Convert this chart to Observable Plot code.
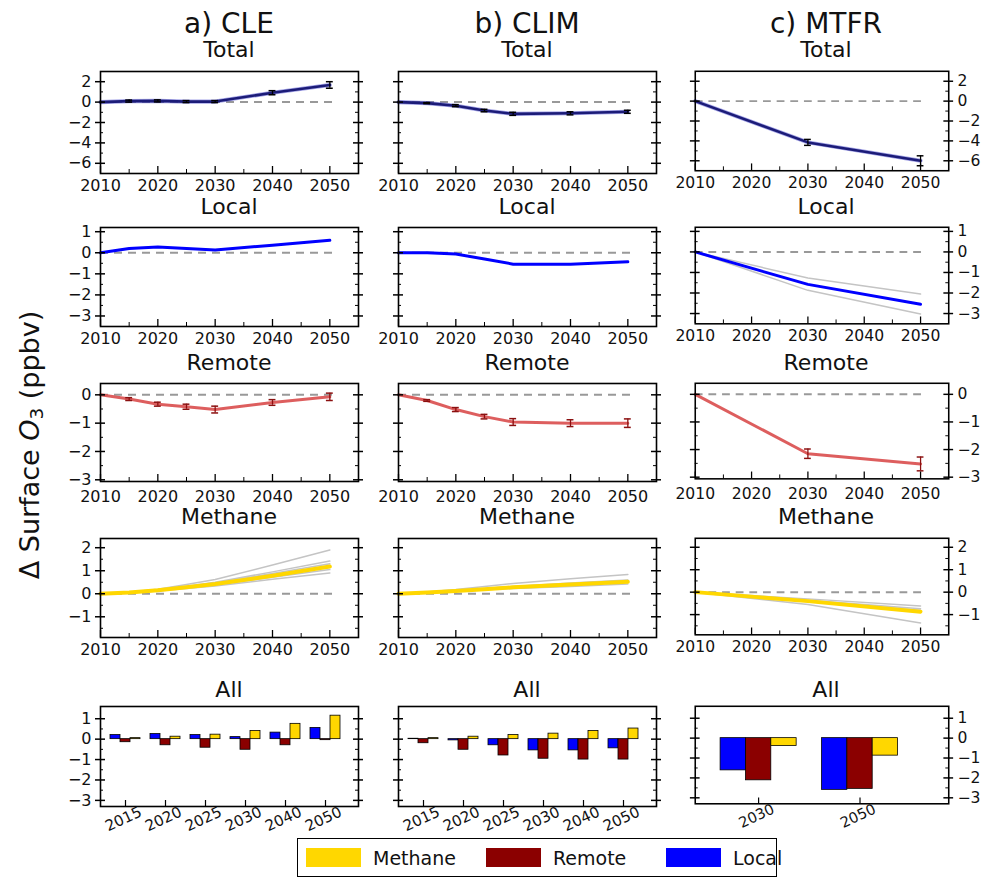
<!DOCTYPE html>
<html><head><meta charset="utf-8">
<script src="https://cdn.jsdelivr.net/npm/d3@7"></script>
<script src="https://cdn.jsdelivr.net/npm/@observablehq/plot@0.6"></script>
<style>
body{margin:0;background:#fff;font-family:"DejaVu Sans",sans-serif;}
#root{position:relative;width:997px;height:877px;overflow:hidden;background:#fff;}
.t{position:absolute;white-space:nowrap;color:#111;line-height:1;transform:translateX(-50%);}
.p{position:absolute;}
#ylab{position:absolute;white-space:nowrap;color:#111;font-size:27px;line-height:1;transform:translate(-50%,-50%) rotate(-90deg);}
#ylab sub{font-size:0.68em;vertical-align:-0.25em;}
#legend{position:absolute;left:297px;top:838px;width:480px;height:39px;border:1.2px solid #000;box-sizing:border-box;background:#fff;}
.li{position:absolute;top:0;height:100%;display:flex;align-items:center;font-size:19px;color:#111;}
.sw{display:inline-block;width:55px;height:19px;margin-right:12px;}
</style></head><body><div id="root"></div>
<script>
// ---------- data ----------
const colTitles = ["a) CLE", "b) CLIM", "c) MTFR"];
const rowTitles = ["Total", "Local", "Remote", "Methane", "All"];
const seriesNames = ["Local", "Remote", "Methane"];
const seriesColors = ["#0000ff", "#8b0000", "#ffd700"];

const lineYears = [2010, 2015, 2020, 2025, 2030, 2040, 2050];
const mtfrYears = [2010, 2030, 2050];
const xTicks = [2010, 2020, 2030, 2040, 2050];
const xMinor = [2015, 2025, 2035, 2045];

// CLE
const cleTotal = [0, 0.1, 0.12, 0.05, 0.05, 0.92, 1.68];
const cleTotalErr = [0, 0.1, 0.1, 0.1, 0.1, 0.2, 0.32];
const cleLocal = [0, 0.2, 0.28, 0.2, 0.13, 0.36, 0.59];
const cleRemote = [0, -0.15, -0.33, -0.42, -0.52, -0.27, -0.07];
const cleRemoteErr = [0, 0.05, 0.07, 0.09, 0.12, 0.1, 0.13];
const cleMethane = [0, 0.05, 0.15, 0.28, 0.42, 0.78, 1.18];
const cleMethaneModels = [
  [0, 0.07, 0.2, 0.4, 0.62, 1.25, 1.9],
  [0, 0.06, 0.17, 0.33, 0.5, 0.95, 1.42],
  [0, 0.05, 0.16, 0.3, 0.46, 0.88, 1.3],
  [0, 0.05, 0.13, 0.26, 0.38, 0.72, 1.05],
  [0, 0.04, 0.12, 0.23, 0.34, 0.63, 0.9]
];
// CLIM
const climTotal = [0, -0.1, -0.35, -0.83, -1.15, -1.1, -0.95];
const climTotalErr = [0, 0.05, 0.1, 0.12, 0.15, 0.15, 0.15];
const climLocal = [0, 0, -0.06, -0.3, -0.54, -0.54, -0.43];
const climRemote = [0, -0.2, -0.52, -0.77, -0.96, -1.0, -1.0];
const climRemoteErr = [0, 0.03, 0.07, 0.08, 0.12, 0.12, 0.15];
const climMethane = [0, 0.05, 0.12, 0.2, 0.28, 0.4, 0.52];
const climMethaneModels = [
  [0, 0.08, 0.18, 0.32, 0.45, 0.65, 0.84],
  [0, 0.06, 0.14, 0.23, 0.32, 0.47, 0.6],
  [0, 0.04, 0.1, 0.17, 0.23, 0.32, 0.42]
];
// MTFR
const mtfrTotal = [0, -4.15, -6.0];
const mtfrTotalErr = [0, 0.3, 0.5];
const mtfrLocal = [0, -1.58, -2.55];
const mtfrLocalModels = [[0, -1.27, -2.05], [0, -1.87, -3.02]];
const mtfrRemote = [0, -2.15, -2.52];
const mtfrRemoteErr = [0, 0.17, 0.25];
const mtfrMethane = [0, -0.4, -0.87];
const mtfrMethaneModels = [[0, -0.55, -1.37], [0, -0.3, -0.62], [0, -0.36, -0.74], [0, -0.42, -0.8]];

// "All" bar panels
const cleBarYears = [2015, 2020, 2025, 2030, 2040, 2050];
const cleBarLocal = [0.2, 0.25, 0.2, 0.1, 0.32, 0.55];
const cleBarRemote = [-0.15, -0.3, -0.42, -0.52, -0.3, -0.05];
const cleBarMethane = [0.05, 0.12, 0.22, 0.4, 0.75, 1.15];
const climBarYears = [2015, 2020, 2025, 2030, 2040, 2050];
const climBarLocal = [0.02, -0.06, -0.3, -0.55, -0.55, -0.45];
const climBarRemote = [-0.2, -0.52, -0.8, -0.96, -1.0, -1.0];
const climBarMethane = [0.05, 0.12, 0.2, 0.27, 0.4, 0.52];
const mtfrBarYears = [2030, 2050];
const mtfrBarLocal = [-1.62, -2.6];
const mtfrBarRemote = [-2.12, -2.55];
const mtfrBarMethane = [-0.4, -0.88];

// axis settings per row
const rowY = {
  Total:   {domain: [-7, 3],      ticks: [2, 0, -2, -4, -6],  minor: [1, -1, -3, -5]},
  Local:   {domain: [-3.5, 1.2],  ticks: [1, 0, -1, -2, -3],  minor: [0.5, -0.5, -1.5, -2.5]},
  Remote:  {domain: [-3.06, 0.4], ticks: [0, -1, -2, -3],     minor: [-0.5, -1.5, -2.5]},
  Methane: {domain: [-1.9, 2.4],  ticks: [2, 1, 0, -1],       minor: [1.5, 0.5, -0.5, -1.5]},
  All:     {domain: [-3.3, 1.6],  ticks: [1, 0, -1, -2, -3],  minor: [0.5, -0.5, -1.5, -2.5]}
};

// ---------- layout ----------
const root = document.getElementById("root");
const cols = [{left: 100, w: 258}, {left: 398, w: 258}, {left: 696, w: 260}];
const rows = [
  {name: "Total", top: 71, h: 102, titleY: 50, xpad: 6},
  {name: "Local", top: 227, h: 99, titleY: 207, xpad: 6},
  {name: "Remote", top: 383, h: 98, titleY: 363, xpad: 9},
  {name: "Methane", top: 538, h: 99, titleY: 517, xpad: 6},
  {name: "All", top: 706, h: 100, titleY: 690, xpad: 6}
];
const ML = 50, MR = 50, MT = 8, MB = 32;
const FONT = "DejaVu Sans";
const TICKFONT = 16;

function addText(html, cx, cy, size) {
  const d = document.createElement("div");
  d.className = "t";
  d.style.left = cx + "px";
  d.style.top = (cy - 0.48 * size) + "px";
  d.style.fontSize = size + "px";
  d.innerHTML = html;
  root.appendChild(d);
}
const fmt = d => (d < 0 ? "\u2212" + Math.abs(d) : String(d));

function yTickMarks(cfg, w, side) {
  const marks = [
    Plot.tickY(cfg.ticks, {y: d => d, insetLeft: -5, insetRight: w - 5, stroke: "#000", strokeWidth: 1.5}),
    Plot.tickY(cfg.ticks, {y: d => d, insetLeft: w - 5, insetRight: -5, stroke: "#000", strokeWidth: 1.5}),
    Plot.tickY(cfg.minor, {y: d => d, insetRight: w - 3, stroke: "#000", strokeWidth: 1}),
    Plot.tickY(cfg.minor, {y: d => d, insetLeft: w - 3, stroke: "#000", strokeWidth: 1})
  ];
  marks.push(Plot.axisY({anchor: side || "left", ticks: side ? cfg.ticks : [], tickSize: 0, tickPadding: 9,
    tickFormat: fmt, label: null, fontSize: TICKFONT, fill: "#111"}));
  return marks;
}

function mount(svg, left, top) {
  const d = document.createElement("div");
  d.className = "p";
  d.style.left = (left - ML) + "px";
  d.style.top = (top - MT) + "px";
  d.appendChild(svg);
  root.appendChild(d);
}

function linePanel(col, row, side, years, vals, color, sw, opts = {}) {
  const cfg = rowY[row.name];
  const data = years.map((x, i) => ({x, y: vals[i], e: opts.err ? opts.err[i] : 0}));
  const errRows = data.filter(d => d.e > 0);
  const marks = [
    Plot.ruleY([0], {x1: years[0], x2: years[years.length - 1] + 1, stroke: "#999", strokeWidth: 2, strokeDasharray: "8,6"})
  ];
  (opts.models || []).forEach(m => {
    marks.push(Plot.line(years.map((x, i) => ({x, y: m[i]})), {x: "x", y: "y", stroke: "#c4c4c4", strokeWidth: 1.5}));
  });
  if (opts.halo) marks.push(Plot.line(data, {x: "x", y: "y", stroke: opts.halo, strokeWidth: sw + 1.5, strokeOpacity: 0.5}));
  marks.push(Plot.line(data, {x: "x", y: "y", stroke: color, strokeWidth: sw, strokeOpacity: opts.opacity || 1}));
  if (errRows.length) {
    const ec = opts.errColor || "#000";
    marks.push(
      Plot.ruleX(errRows, {x: "x", y1: d => d.y - d.e, y2: d => d.y + d.e, stroke: ec, strokeWidth: 1.3}),
      Plot.ruleY(errRows, {y: d => d.y - d.e, x1: d => d.x - 0.6, x2: d => d.x + 0.6, stroke: ec, strokeWidth: 1.5}),
      Plot.ruleY(errRows, {y: d => d.y + d.e, x1: d => d.x - 0.6, x2: d => d.x + 0.6, stroke: ec, strokeWidth: 1.5})
    );
  }
  marks.push(
    Plot.frame({stroke: "#000", strokeWidth: 1.6}),
    Plot.tickX(xTicks, {x: d => d, insetTop: row.h - 7, stroke: "#000", strokeWidth: 1.3}),
    Plot.tickX(xMinor, {x: d => d, insetTop: row.h - 4, stroke: "#000", strokeWidth: 1}),
    Plot.axisX({ticks: xTicks, tickSize: 0, tickPadding: row.xpad, tickFormat: d => String(d), label: null, fontSize: TICKFONT, fill: "#111"}),
    ...yTickMarks(cfg, col.w, side)
  );
  const svg = Plot.plot({
    width: col.w + ML + MR, height: row.h + MT + MB,
    marginLeft: ML, marginRight: MR, marginTop: MT, marginBottom: MB,
    x: {domain: [2010, 2055]}, y: {domain: cfg.domain},
    style: {fontFamily: FONT, fontSize: TICKFONT + "px", background: "transparent", overflow: "visible", color: "#111"},
    marks
  });
  mount(svg, col.left, row.top);
}

function barPanel(col, row, side, years, local, remote, methane) {
  const cfg = rowY[row.name];
  const keys = years.flatMap(y => [y + "|gap", y + "|Local", y + "|Remote", y + "|Methane"]);
  const vals = {Local: local, Remote: remote, Methane: methane};
  const data = years.flatMap((y, i) => seriesNames.map(s => ({key: y + "|" + s, s, v: vals[s][i]})));
  const centers = years.map(y => ({key: y + "|Remote", label: String(y)}));
  const svg = Plot.plot({
    width: col.w + ML + MR, height: row.h + MT + MB,
    marginLeft: ML, marginRight: MR, marginTop: MT, marginBottom: MB,
    x: {type: "band", domain: keys, paddingInner: 0, paddingOuter: 0.9, align: 0},
    y: {domain: cfg.domain},
    color: {domain: seriesNames, range: seriesColors},
    style: {fontFamily: FONT, fontSize: TICKFONT + "px", background: "transparent", overflow: "visible", color: "#111"},
    marks: [
      Plot.barY(data, {x: "key", y1: 0, y2: "v", fill: "s", stroke: "#000", strokeWidth: 0.8}),
      Plot.frame({stroke: "#000", strokeWidth: 1.6}),
      Plot.tickX(centers, {x: "key", insetTop: row.h - 6, stroke: "#000", strokeWidth: 1.2}),
      Plot.text(centers, {x: "key", text: "label", frameAnchor: "bottom", dy: 17, rotate: -25, textAnchor: "middle", fontSize: 15, fill: "#111"}),
      Plot.axisX({ticks: [], tickSize: 0, label: null}),
      ...yTickMarks(cfg, col.w, side)
    ]
  });
  mount(svg, col.left, row.top);
}

// titles
colTitles.forEach((t, i) => addText(t, cols[i].left + cols[i].w / 2, 23, 28));
cols.forEach(c => rows.forEach(r => addText(r.name, c.left + c.w / 2, r.titleY, 22)));

const navy = "#1c1c78";
const redLine = "#d94c4c";
// column a: CLE
linePanel(cols[0], rows[0], "left", lineYears, cleTotal, navy, 2.6, {err: cleTotalErr, halo: "#4a4ad0"});
linePanel(cols[0], rows[1], "left", lineYears, cleLocal, "#0000ff", 3);
linePanel(cols[0], rows[2], "left", lineYears, cleRemote, redLine, 3, {err: cleRemoteErr, errColor: "#8b1010", opacity: 0.9});
linePanel(cols[0], rows[3], "left", lineYears, cleMethane, "#ffd700", 4, {models: cleMethaneModels});
barPanel(cols[0], rows[4], "left", cleBarYears, cleBarLocal, cleBarRemote, cleBarMethane);
// column b: CLIM
linePanel(cols[1], rows[0], null, lineYears, climTotal, navy, 2.6, {err: climTotalErr, halo: "#4a4ad0"});
linePanel(cols[1], rows[1], null, lineYears, climLocal, "#0000ff", 3);
linePanel(cols[1], rows[2], null, lineYears, climRemote, redLine, 3, {err: climRemoteErr, errColor: "#8b1010", opacity: 0.9});
linePanel(cols[1], rows[3], null, lineYears, climMethane, "#ffd700", 4, {models: climMethaneModels});
barPanel(cols[1], rows[4], null, climBarYears, climBarLocal, climBarRemote, climBarMethane);
// column c: MTFR
linePanel(cols[2], rows[0], "right", mtfrYears, mtfrTotal, navy, 2.6, {err: mtfrTotalErr, halo: "#4a4ad0"});
linePanel(cols[2], rows[1], "right", mtfrYears, mtfrLocal, "#0000ff", 3, {models: mtfrLocalModels});
linePanel(cols[2], rows[2], "right", mtfrYears, mtfrRemote, redLine, 3, {err: mtfrRemoteErr, errColor: "#8b1010", opacity: 0.9});
linePanel(cols[2], rows[3], "right", mtfrYears, mtfrMethane, "#ffd700", 4, {models: mtfrMethaneModels});
barPanel(cols[2], rows[4], "right", mtfrBarYears, mtfrBarLocal, mtfrBarRemote, mtfrBarMethane);

// y label
const yl = document.createElement("div");
yl.id = "ylab";
yl.style.left = "31px"; yl.style.top = "445px";
yl.innerHTML = "\u0394 Surface <i>O</i><sub>3</sub> (ppbv)";
root.appendChild(yl);

// legend
const lg = document.createElement("div");
lg.id = "legend";
const legendOrder = ["Methane", "Remote", "Local"];
const legendX = [8, 188, 368];
legendOrder.forEach((s, i) => {
  const it = document.createElement("div");
  it.className = "li";
  it.style.left = legendX[i] + "px";
  it.innerHTML = `<span class="sw" style="background:${seriesColors[seriesNames.indexOf(s)]}"></span>${s}`;
  lg.appendChild(it);
});
root.appendChild(lg);
</script>
</body></html>
